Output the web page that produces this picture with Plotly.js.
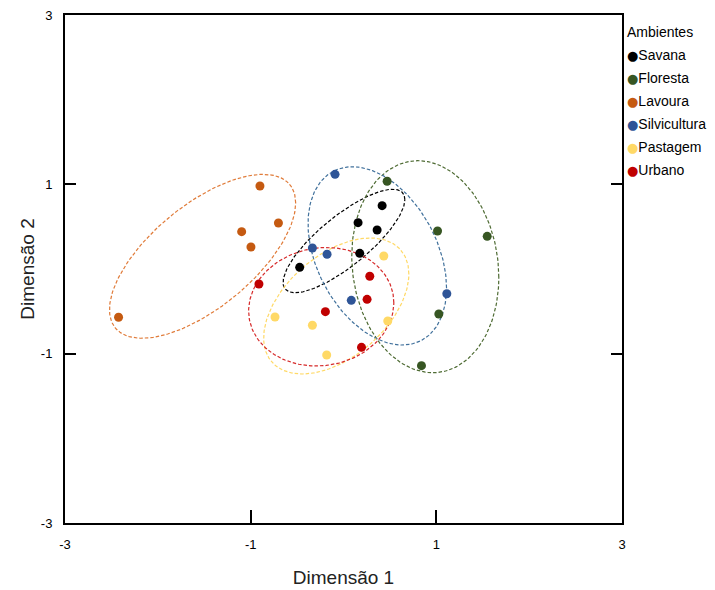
<!DOCTYPE html>
<html>
<head>
<meta charset="utf-8">
<script src="https://cdn.plot.ly/plotly-3.0.1.min.js"></script>
<style>html,body{margin:0;padding:0;background:#fff;}#chart{width:715px;height:590px;}</style>
</head>
<body>
<div id="chart"></div>
<script>
// ---- data ----
const groups = ["Savana", "Floresta", "Lavoura", "Silvicultura", "Pastagem", "Urbano"];
const legendTitle = "Ambientes";

const savanaX = [-0.472, 0.175, 0.157, 0.362, 0.416];
const savanaY = [0.020, 0.185, 0.547, 0.461, 0.748];

const florestaX = [0.470, 1.013, 1.548, 1.027, 0.840];
const florestaY = [1.036, 0.449, 0.386, -0.531, -1.142];

const lavouraX = [-0.900, -0.701, -1.097, -0.997, -2.423];
const lavouraY = [0.980, 0.543, 0.441, 0.260, -0.570];

const silviculturaX = [-0.091, -0.335, -0.177, 0.084, 1.113];
const silviculturaY = [1.118, 0.248, 0.174, -0.370, -0.292];

const pastagemX = [0.434, -0.738, -0.335, -0.181, 0.477];
const pastagemY = [0.154, -0.567, -0.665, -1.016, -0.614];

const urbanoX = [-0.911, 0.283, 0.254, -0.195, 0.194];
const urbanoY = [-0.177, -0.086, -0.358, -0.504, -0.925];

// dispersion ellipses (centre, half extents, tilt) per group, same order as groups
const ellipseCx  = [0.005, 0.881, -1.518, 0.364, -0.078, -0.240];
const ellipseCy  = [0.331, 0.027, 0.150, 0.155, -0.437, -0.446];
const ellipseRx  = [0.656, 0.792, 1.003, 0.746, 0.782, 0.782];
const ellipseRy  = [0.611, 1.252, 0.968, 1.053, 0.803, 0.700];
const ellipseRho = [0.80, -0.10, 0.65, -0.36, 0.47, 0.07];

const tickVals = [-3, -1, 1, 3];
const tickText = ["-3", "-1", "1", "3"];

// ---- styling ----
const pointColors = ["#000000", "#375623", "#C55A11", "#2F5597", "#FFD966", "#C00000"];
const lineColors  = ["#000000", "#4E6B33", "#E07B39", "#41719C", "#FFD966", "#D62A2A"];

const xs = [savanaX, florestaX, lavouraX, silviculturaX, pastagemX, urbanoX];
const ys = [savanaY, florestaY, lavouraY, silviculturaY, pastagemY, urbanoY];

const traces = [];
groups.forEach((g, i) => {
  const ex = [], ey = [];
  const n = 180, s = Math.sqrt(1 - ellipseRho[i] * ellipseRho[i]);
  for (let k = 0; k <= n; k++) {
    const t = 2 * Math.PI * k / n;
    ex.push(ellipseCx[i] + ellipseRx[i] * Math.cos(t));
    ey.push(ellipseCy[i] + ellipseRy[i] * (ellipseRho[i] * Math.cos(t) + s * Math.sin(t)));
  }
  traces.push({
    x: ex, y: ey, type: "scatter", mode: "lines",
    line: {color: lineColors[i], width: 1.2, dash: "3.5px,2px"},
    showlegend: false, hoverinfo: "skip"
  });
});
groups.forEach((g, i) => {
  traces.push({
    x: xs[i], y: ys[i], name: g, type: "scatter", mode: "markers",
    marker: {color: pointColors[i], size: 9}, showlegend: false
  });
});

// legend drawn as text annotations (compact Excel-like legend)
const ML = 65, MR = 93, MT = 15, MB = 67, W = 715, H = 590;
const pw = W - ML - MR, ph = H - MT - MB;
const px2paper = (px) => (px - ML) / pw;
const py2paper = (py) => (H - MB - py) / ph;

const annotations = [{
  xref: "paper", yref: "paper", x: px2paper(625), y: py2paper(32),
  xanchor: "left", yanchor: "middle", showarrow: false,
  text: legendTitle, font: {size: 14, color: "#000"}
}];
groups.forEach((g, i) => {
  annotations.push({
    xref: "paper", yref: "paper", x: px2paper(625), y: py2paper(55 + 23 * i),
    xanchor: "left", yanchor: "middle", showarrow: false,
    text: '<span style="color:' + pointColors[i] + ';font-size:13px;font-family:DejaVu Sans">●</span>' + g,
    font: {size: 14, color: "#000"}
  });
});

const font = {family: "Liberation Sans, Arial, sans-serif", color: "#000", size: 13};

const layout = {
  width: W, height: H,
  margin: {l: ML, r: MR, t: MT, b: MB},
  paper_bgcolor: "#fff", plot_bgcolor: "#fff",
  font: font,
  showlegend: false,
  annotations: annotations,
  xaxis: {
    range: [-3, 3], tickvals: tickVals, ticktext: tickText,
    showgrid: false, zeroline: false,
    showline: true, linecolor: "#000", linewidth: 2, mirror: true,
    ticks: "inside", ticklen: 13, tickwidth: 2, tickcolor: "#000",
    ticklabelstandoff: 8, tickfont: {size: 13},
    title: {text: "Dimensão 1", font: {size: 19, color: "#222"}, standoff: 20}
  },
  yaxis: {
    range: [-3, 3], tickvals: tickVals, ticktext: tickText,
    showgrid: false, zeroline: false,
    showline: true, linecolor: "#000", linewidth: 2, mirror: "ticks",
    ticks: "inside", ticklen: 11, tickwidth: 2, tickcolor: "#000",
    ticklabelstandoff: 8, tickfont: {size: 13},
    title: {text: "Dimensão 2", font: {size: 19, color: "#222"}, standoff: 1}
  }
};

Plotly.newPlot("chart", traces, layout, {displayModeBar: false, staticPlot: true});
</script>
</body>
</html>
